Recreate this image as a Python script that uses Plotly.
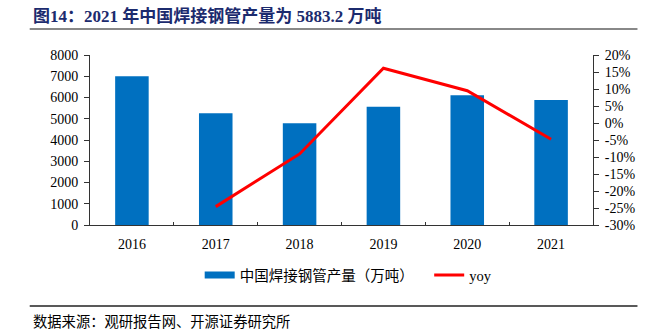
import plotly.graph_objects as go

years = ["2016", "2017", "2018", "2019", "2020", "2021"]
output = [7000, 5260, 4790, 5570, 6110, 5883.2]
yoy_years = ["2017", "2018", "2019", "2020", "2021"]
yoy = [-24.6, -9.1, 16.1, 9.5, -4.8]
left_ticks = [0, 1000, 2000, 3000, 4000, 5000, 6000, 7000, 8000]
right_ticks = [-30, -25, -20, -15, -10, -5, 0, 5, 10, 15, 20]

BLUE = "#0070C0"
RED = "#FF0000"
SERIF = "Liberation Serif, Times New Roman, serif"
CJK = "Noto Sans CJK SC"


def px_x(x):
    return (x - 90) / 509


def px_y(y):
    return (225 - y) / 170


fig = go.Figure()
fig.add_trace(go.Bar(x=years, y=output, marker=dict(color=BLUE, line=dict(width=0)),
                     width=0.4, showlegend=False, name="中国焊接钢管产量（万吨）"))
fig.add_trace(go.Scatter(x=yoy_years, y=yoy, yaxis="y2", mode="lines",
                         line=dict(color=RED, width=3), showlegend=False, name="yoy"))
# legend proxies
fig.add_trace(go.Scatter(x=[None], y=[None], mode="lines", line=dict(color=BLUE, width=7),
                         name="中国焊接钢管产量（万吨）\u3000\u00a0"))
fig.add_trace(go.Scatter(x=[None], y=[None], mode="lines", line=dict(color=RED, width=3),
                         name="<span style='font-family:Liberation Serif'>yoy</span>", yaxis="y2"))

fig.update_layout(
    width=647, height=333,
    margin=dict(l=90, r=48, t=55, b=108),
    paper_bgcolor="white", plot_bgcolor="white",
    xaxis=dict(type="category", showline=True, linecolor="#333", linewidth=1,
               ticks="inside", ticklen=3, tickcolor="#333", tickson="boundaries",
               tickfont=dict(family=SERIF, size=14, color="#000"),
               showgrid=False, zeroline=False, ticklabelstandoff=6),
    yaxis=dict(range=[0, 8000], tickvals=left_ticks, showline=True, linecolor="#333",
               linewidth=1, ticks="outside", ticklen=5, tickcolor="#333",
               tickfont=dict(family=SERIF, size=14, color="#000"),
               showgrid=False, zeroline=False, ticklabelstandoff=3),
    yaxis2=dict(range=[-30, 20], tickvals=right_ticks, ticktext=[f"{v}%" for v in right_ticks],
                overlaying="y", side="right", showline=True, linecolor="#333", linewidth=1,
                ticks="outside", ticklen=5, tickcolor="#333",
                tickfont=dict(family=SERIF, size=14, color="#000"),
                showgrid=False, zeroline=False, ticklabelstandoff=3),
    legend=dict(orientation="h", x=px_x(201), xanchor="left", y=px_y(275), yanchor="middle",
                font=dict(family=CJK, size=14.5, color="#000"), itemwidth=30,
                tracegroupgap=0, bgcolor="rgba(0,0,0,0)"),
    shapes=[
        dict(type="line", xref="paper", yref="paper", x0=px_x(29), x1=px_x(644),
             y0=px_y(29), y1=px_y(29), line=dict(color="#888888", width=2)),
        dict(type="line", xref="paper", yref="paper", x0=px_x(29), x1=px_x(644),
             y0=px_y(306), y1=px_y(306), line=dict(color="#222222", width=1.5)),
    ],
)

fig.add_annotation(text="<b>图14：2021 年中国焊接钢管产量为 5883.2 万吨</b>", xref="paper", yref="paper",
                   x=px_x(30), y=px_y(16), xanchor="left", yanchor="middle", showarrow=False,
                   font=dict(family="Liberation Serif, " + CJK, size=17, color="#1C2B6E"))
fig.add_annotation(text="数据来源：观研报告网、开源证券研究所", xref="paper", yref="paper",
                   x=px_x(30), y=px_y(320), xanchor="left", yanchor="middle", showarrow=False,
                   font=dict(family=CJK, size=14.3, color="#000"))

fig.write_html("out.html")
